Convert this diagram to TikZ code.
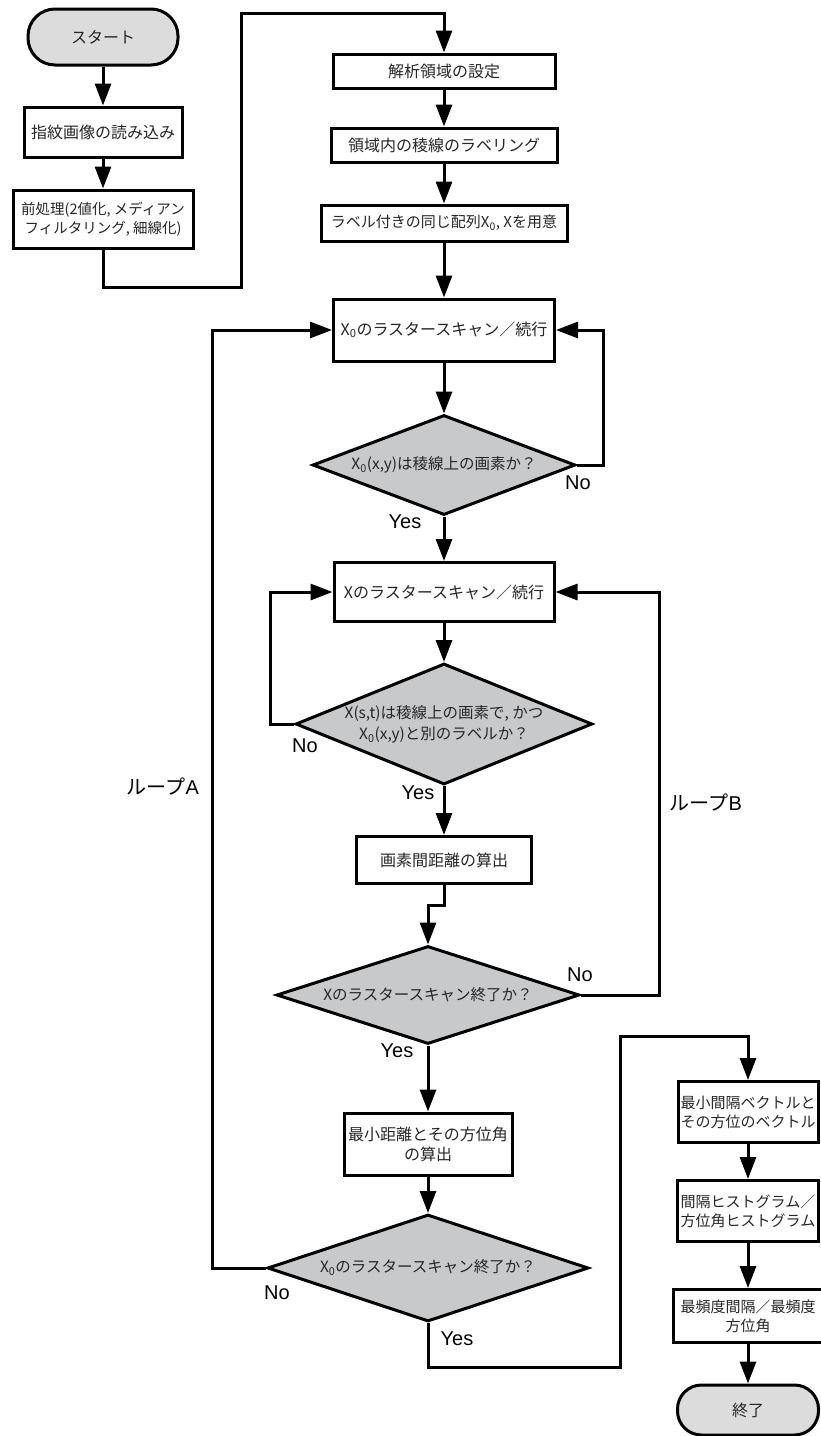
\documentclass[tikz,border=0pt]{standalone}
\usepackage{fontspec}
\setmainfont{Liberation Sans}
\newfontfamily\cjk{Noto Sans CJK JP}
\usetikzlibrary{arrows.meta,shapes.geometric}
\definecolor{termgray}{HTML}{DCDCDC}
\definecolor{diagray}{HTML}{C8C9CB}
\newcommand\Xo{X\textsubscript{0}}
\begin{document}
\begin{tikzpicture}[x=1pt,y=-1pt,
 every node/.style={font=\cjk\fontsize{16}{20}\selectfont, text=black!85},
 box/.style={draw, line width=3pt, fill=white, align=center, inner sep=0pt},
 term/.style={box, fill=termgray},
 small/.style={font=\cjk\fontsize{15}{19}\selectfont},
 tiny/.style={font=\cjk\fontsize{14.5}{19}\selectfont},
 dec/.style={diamond, draw, line width=3pt, fill=diagray, aspect=2.6, inner sep=0pt, align=center, font=\cjk\fontsize{15.5}{21}\selectfont},
 conn/.style={line width=3pt, -{Triangle[length=22pt,width=16pt]}},
 lbl/.style={font=\fontsize{20}{24}\selectfont, text=black}
]
\useasboundingbox (0,0) rectangle (820,1436);
% left column
\node[term, rounded corners=27pt, minimum width=150pt, minimum height=56pt] (start) at (103,37) {スタート};
\node[box, minimum width=158pt, minimum height=50pt] (read) at (103,132) {指紋画像の読み込み};
\node[box, tiny, minimum width=180pt, minimum height=58pt] (pre) at (103,219) {前処理(2値化, メディアン\\フィルタリング, 細線化)};
% main column
\node[box, minimum width=222pt, minimum height=34pt] (A1) at (444,71) {解析領域の設定};
\node[box, minimum width=226pt, minimum height=34pt] (A2) at (444,145) {領域内の稜線のラベリング};
\node[box, small, minimum width=246pt, minimum height=36pt] (A3) at (444,223) {ラベル付きの同じ配列\Xo, Xを用意};
\node[box, minimum width=221pt, minimum height=62pt] (B1) at (444,330) {\Xo のラスタースキャン／続行};
\node[dec, minimum width=263pt, minimum height=100pt] (D1) at (444,465) {\Xo(x,y)は稜線上の画素か？};
\node[box, minimum width=220pt, minimum height=59pt] (B2) at (444,592) {Xのラスタースキャン／続行};
\node[dec, minimum width=287pt, minimum height=121pt] (D2) at (444,724) {X(s,t)は稜線上の画素で, かつ\\\Xo(x,y)と別のラベルか？};
\node[box, minimum width=175pt, minimum height=47pt] (B3) at (444,860) {画素間距離の算出};
\node[dec, minimum width=303pt, minimum height=98pt] (D3) at (428,995) {Xのラスタースキャン終了か？};
\node[box, minimum width=168pt, minimum height=62pt] (B4) at (428,1144) {最小距離とその方位角\\の算出};
\node[dec, minimum width=321pt, minimum height=107pt] (D4) at (428,1268) {\Xo のラスタースキャン終了か？};
% right column
\node[box, small, minimum width=140pt, minimum height=61pt] (R1) at (748,1112) {最小間隔ベクトルと\\その方位のベクトル};
\node[box, small, minimum width=141pt, minimum height=61pt] (R2) at (748,1211) {間隔ヒストグラム／\\方位角ヒストグラム};
\node[box, small, minimum width=150pt, minimum height=53pt] (R3) at (748,1316) {最頻度間隔／最頻度\\方位角};
\node[term, rounded corners=24pt, minimum width=141pt, minimum height=50pt] (end) at (748,1410) {終了};
% coordinates
\coordinate (c1) at (241,287);
\coordinate (c2) at (241,13);
\coordinate (k1) at (444,905);
\coordinate (y1) at (620,1367);
\coordinate (y2) at (620,1036);
% connectors
\draw[conn] (start) -- (read);
\draw[conn] (read) -- (pre);
\draw[conn] (pre.south) |- (c1) -- (c2) -| (A1.north);
\draw[conn] (A1) -- (A2);
\draw[conn] (A2) -- (A3);
\draw[conn] (A3) -- (B1);
\draw[conn] (B1) -- (D1);
\draw[conn] (D1) -- (B2);
\draw[conn] (B2) -- (D2);
\draw[conn] (D2) -- (B3);
\draw[conn] (B3.south) -- (k1) -| (D3.north);
\draw[conn] (D3) -- (B4);
\draw[conn] (B4) -- (D4);
\draw[conn] (R1) -- (R2);
\draw[conn] (R2) -- (R3);
\draw[conn] (R3) -- (end);
\draw[conn] (D1.east) -- ++(26.5,0) |- (B1.east);
\draw[conn] (D2.west) -- ++(-24,0) |- (B2.west);
\draw[conn] (D3.east) -- ++(78.5,0) |- (B2.east);
\draw[conn] (D4.west) -- ++(-53.5,0) |- (B1.west);
\draw[conn] (D4.south) |- (y1) -- (y2) -| (R1.north);
% labels
\node[lbl] (no1) at (578,483) {No};
\node[lbl] (yes1) at (405,522) {Yes};
\node[lbl] (no2) at (305,746) {No};
\node[lbl] (yes2) at (418,793) {Yes};
\node[lbl] (no3) at (580,975) {No};
\node[lbl] (yes3) at (397,1051) {Yes};
\node[lbl] (no4) at (277,1293) {No};
\node[lbl] (yes4) at (457,1339) {Yes};
\node[lbl] (loopA) at (163,787) {{\cjk ループ}A};
\node[lbl] (loopB) at (706,803) {{\cjk ループ}B};
\end{tikzpicture}
\end{document}
